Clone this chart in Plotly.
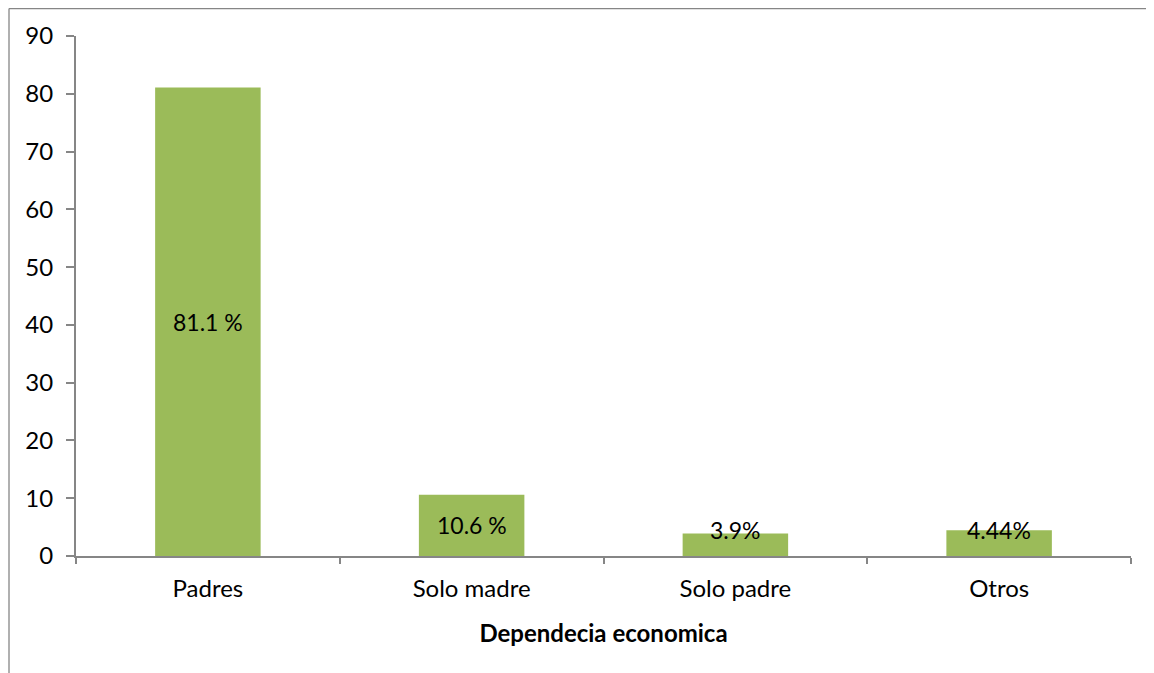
import plotly.graph_objects as go

categories = ["Padres", "Solo madre", "Solo padre", "Otros"]
values = [81.1, 10.6, 3.9, 4.44]
labels = ["81.1 %", "10.6 %", "3.9%", "4.44%"]
y_ticks = [0, 10, 20, 30, 40, 50, 60, 70, 80, 90]

# page body has an 8px default margin: size the figure to fit the window
OFF = 8
W, H = 1154 - OFF, 673 - OFF
L, R, T, B = 76 - OFF, 23, 36 - OFF, 117
FONT = "Lato"
FS = 24
GRAY = "#868686"

fig = go.Figure()
fig.add_trace(go.Bar(
    x=categories, y=values,
    marker=dict(color="#9BBB59", line=dict(width=0)),
    hoverinfo="x+y",
))

for c, v, t in zip(categories, values, labels):
    fig.add_annotation(x=c, y=max(v / 2, 4.5), text=t, showarrow=False,
                       font=dict(family=FONT, size=FS - 1, color="black"),
                       xanchor="center", yanchor="middle")

pw, ph = W - L - R, H - T - B
def px_to_paper_x(px):
    return (px - OFF - L) / pw
def px_to_paper_y(py):
    return (H - B - (py - OFF)) / ph

fig.add_shape(type="line", xref="paper", yref="paper",
              x0=px_to_paper_x(9), x1=px_to_paper_x(1170),
              y0=px_to_paper_y(8.6), y1=px_to_paper_y(8.6),
              line=dict(color=GRAY, width=1.3))
fig.add_shape(type="line", xref="paper", yref="paper",
              x0=px_to_paper_x(9), x1=px_to_paper_x(9),
              y0=px_to_paper_y(8.6), y1=px_to_paper_y(690),
              line=dict(color=GRAY, width=1.3))

fig.update_layout(
    width=W, height=H,
    margin=dict(l=L, r=R, t=T, b=B, autoexpand=False),
    paper_bgcolor="white", plot_bgcolor="white",
    bargap=0.6,
    showlegend=False,
    font=dict(family=FONT, size=FS, color="black"),
    xaxis=dict(
        showline=True, linecolor=GRAY, linewidth=2,
        ticks="outside", tickson="boundaries", ticklen=6, tickcolor=GRAY, tickwidth=1.5,
        tickfont=dict(family=FONT, size=FS, color="black"),
        ticklabelstandoff=10,
        title=dict(text="<b>Dependecia economica</b>",
                   font=dict(family=FONT, size=FS, color="black"), standoff=24),
        showgrid=False, zeroline=False, automargin=False,
    ),
    yaxis=dict(
        range=[0, 90], tickvals=y_ticks,
        showline=True, linecolor=GRAY, linewidth=2,
        ticks="outside", ticklen=8, tickcolor=GRAY, tickwidth=1.5,
        tickfont=dict(family=FONT, size=FS, color="black"),
        ticklabelstandoff=8,
        showgrid=False, zeroline=False, automargin=False,
    ),
)

fig.write_html("out.html")
